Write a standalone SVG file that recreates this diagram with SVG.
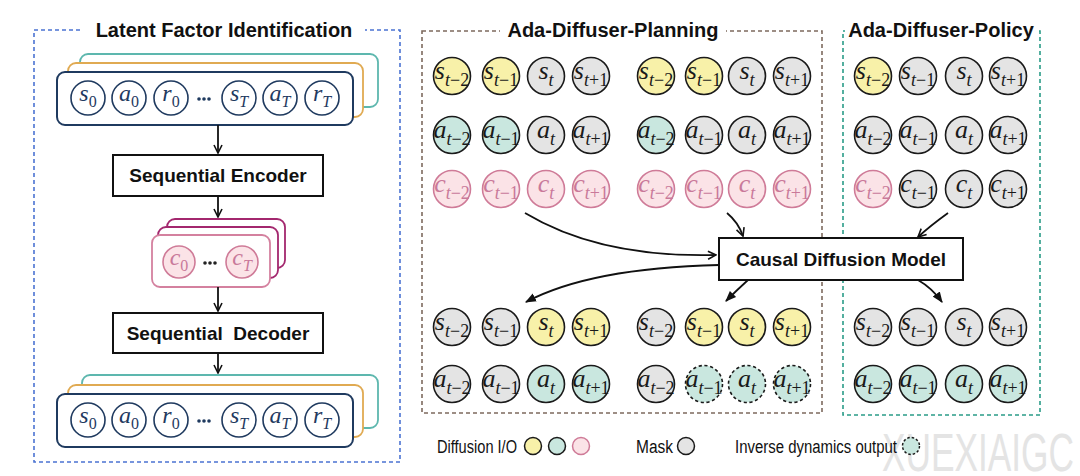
<svg xmlns="http://www.w3.org/2000/svg" xmlns:xlink="http://www.w3.org/1999/xlink" width="1080" height="476" viewBox="0 0 1080 476">
<style>
.title{font-family:"Liberation Sans",Arial,sans-serif;font-weight:bold;font-size:20px;fill:#111;text-anchor:middle}
.btxt{font-family:"Liberation Sans",Arial,sans-serif;font-weight:bold;font-size:19px;fill:#111;text-anchor:middle}
.leg{font-family:"Liberation Sans",Arial,sans-serif;font-size:18px;fill:#111}
.mi{font-family:"Liberation Serif","Times New Roman",serif;font-style:italic;font-size:26px;text-anchor:middle}
.sb{font-size:18px;font-style:italic}
.sn{font-size:18px;font-style:normal}
.mi2{font-family:"Liberation Serif","Times New Roman",serif;font-style:italic;font-size:24px;text-anchor:middle}
.sb2{font-size:16px;font-style:italic}
.sn2{font-size:16px;font-style:normal}
.cy{fill:#f8f1a9;stroke:#1a1a1a;stroke-width:1.6}
.ct{fill:#c9e7df;stroke:#1a1a1a;stroke-width:1.6}
.cg{fill:#e4e4e4;stroke:#1a1a1a;stroke-width:1.6}
.cp{fill:#fbe3e7;stroke:#cf7b98;stroke-width:1.6}
.cd{fill:#c9e7df;stroke:#1a1a1a;stroke-width:1.6;stroke-dasharray:3.2 2.6}
.tk{fill:#1a1a1a}
.tp{fill:#c9799a}
.tn{fill:#1f3a5f}
.cn{fill:#fff;stroke:#1f3a5f;stroke-width:1.6}
.seqF{fill:#fff;stroke:#1f3a5f;stroke-width:2}
.seqO{fill:#fff;stroke:#e0aa52;stroke-width:1.8}
.seqT{fill:#fff;stroke:#5db7ae;stroke-width:1.8}
.box{fill:#fff;stroke:#111;stroke-width:2}
.conn{fill:none;stroke:#111;stroke-width:1.8}
</style>
<defs>
<marker id="open" viewBox="0 0 10 10" refX="9" refY="5" markerWidth="10" markerHeight="10" markerUnits="userSpaceOnUse" orient="auto">
<path d="M1,1 L9,5 L1,9" fill="none" stroke="#111" stroke-width="1.6"/>
</marker>
<marker id="fill" viewBox="0 0 10 10" refX="9" refY="5" markerWidth="11" markerHeight="11" markerUnits="userSpaceOnUse" orient="auto">
<path d="M0,1 L10,5 L0,9 z" fill="#111"/>
</marker>
<text id="s_tm2" class="mi" x="0" y="3">s<tspan class="sb" dy="7">t</tspan><tspan class="sn">−2</tspan></text>
<text id="s_tm1" class="mi" x="0" y="3">s<tspan class="sb" dy="7">t</tspan><tspan class="sn">−1</tspan></text>
<text id="s_t" class="mi" x="0" y="3">s<tspan class="sb" dy="7">t</tspan></text>
<text id="s_tp1" class="mi" x="0" y="3">s<tspan class="sb" dy="7">t</tspan><tspan class="sn">+1</tspan></text>
<text id="a_tm2" class="mi" x="0" y="3">a<tspan class="sb" dy="7">t</tspan><tspan class="sn">−2</tspan></text>
<text id="a_tm1" class="mi" x="0" y="3">a<tspan class="sb" dy="7">t</tspan><tspan class="sn">−1</tspan></text>
<text id="a_t" class="mi" x="0" y="3">a<tspan class="sb" dy="7">t</tspan></text>
<text id="a_tp1" class="mi" x="0" y="3">a<tspan class="sb" dy="7">t</tspan><tspan class="sn">+1</tspan></text>
<text id="c_tm2" class="mi" x="0" y="3">c<tspan class="sb" dy="7">t</tspan><tspan class="sn">−2</tspan></text>
<text id="c_tm1" class="mi" x="0" y="3">c<tspan class="sb" dy="7">t</tspan><tspan class="sn">−1</tspan></text>
<text id="c_t" class="mi" x="0" y="3">c<tspan class="sb" dy="7">t</tspan></text>
<text id="c_tp1" class="mi" x="0" y="3">c<tspan class="sb" dy="7">t</tspan><tspan class="sn">+1</tspan></text>
<text id="s_0" class="mi2" x="0" y="3">s<tspan class="sn2" dy="6">0</tspan></text>
<text id="a_0" class="mi2" x="0" y="3">a<tspan class="sn2" dy="6">0</tspan></text>
<text id="r_0" class="mi2" x="0" y="3">r<tspan class="sn2" dy="6">0</tspan></text>
<text id="s_T" class="mi2" x="0" y="3">s<tspan class="sb2" dy="6">T</tspan></text>
<text id="a_T" class="mi2" x="0" y="3">a<tspan class="sb2" dy="6">T</tspan></text>
<text id="r_T" class="mi2" x="0" y="3">r<tspan class="sb2" dy="6">T</tspan></text>
<text id="c_0" class="mi2" x="0" y="3">c<tspan class="sn2" dy="6">0</tspan></text>
<text id="c_T" class="mi2" x="0" y="3">c<tspan class="sb2" dy="6">T</tspan></text>
<g id="dots"><circle cx="-5" cy="0" r="1.8"/><circle cx="0" cy="0" r="1.8"/><circle cx="5" cy="0" r="1.8"/></g>
</defs>
<rect width="1080" height="476" fill="#fff"/>

<!-- watermark -->
<text x="882" y="471" font-family="Liberation Sans,Arial,sans-serif" font-size="54" fill="#e4e4e4" textLength="192" lengthAdjust="spacingAndGlyphs">XUEXIAIGC</text>

<!-- Panels -->
<g id="panel-latent">
<rect x="34" y="30" width="366" height="432" fill="none" stroke="#4b73d2" stroke-width="1.6" stroke-dasharray="4 3"/>
<rect x="82" y="20" width="283" height="22" fill="#fff"/>
<text class="title" x="224" y="37">Latent Factor Identification</text>
</g>
<g id="panel-planning">
<rect x="422" y="31" width="400" height="382" fill="none" stroke="#7d6a5e" stroke-width="1.6" stroke-dasharray="4 3"/>
<rect x="500" y="20" width="226" height="22" fill="#fff"/>
<text class="title" x="613" y="37">Ada-Diffuser-Planning</text>
</g>
<g id="panel-policy">
<rect x="843" y="31" width="197" height="384" fill="none" stroke="#2a9c88" stroke-width="1.6" stroke-dasharray="4 3"/>
<rect x="845" y="20" width="193" height="22" fill="#fff"/>
<text class="title" x="941" y="37">Ada-Diffuser-Policy</text>
</g>

<!-- Latent: input sequence -->
<g id="seq-in">
<rect class="seqT" x="80" y="54" width="298" height="53" rx="8"/>
<rect class="seqO" x="68" y="63" width="295" height="54" rx="8"/>
<rect class="seqF" x="57" y="72" width="296" height="53" rx="8"/>
<circle class="cn" cx="88" cy="98" r="17"/><use href="#s_0" x="88" y="98" class="tn"/>
<circle class="cn" cx="129" cy="98" r="17"/><use href="#a_0" x="129" y="98" class="tn"/>
<circle class="cn" cx="171" cy="98" r="17"/><use href="#r_0" x="171" y="98" class="tn"/>
<use href="#dots" x="204" y="99" fill="#1f3a5f"/>
<circle class="cn" cx="239" cy="98" r="17"/><use href="#s_T" x="239" y="98" class="tn"/>
<circle class="cn" cx="280" cy="98" r="17"/><use href="#a_T" x="280" y="98" class="tn"/>
<circle class="cn" cx="322" cy="98" r="17"/><use href="#r_T" x="322" y="98" class="tn"/>
</g>
<g id="encoder">
<rect class="box" x="113" y="155" width="210" height="41"/>
<text class="btxt" x="218" y="182">Sequential Encoder</text>
</g>
<g id="latent-c">
<rect x="167" y="219" width="118" height="49" rx="8" fill="#fff" stroke="#a3276e" stroke-width="1.8"/>
<rect x="158" y="227" width="120" height="51" rx="8" fill="#fff" stroke="#a3276e" stroke-width="1.8"/>
<rect x="152" y="235" width="118" height="52" rx="8" fill="#fff" stroke="#d4819f" stroke-width="1.8"/>
<circle class="cp" cx="179" cy="262" r="16"/><use href="#c_0" x="179" y="262" class="tp"/>
<use href="#dots" x="210" y="263" fill="#222"/>
<circle class="cp" cx="242" cy="262" r="16"/><use href="#c_T" x="242" y="262" class="tp"/>
</g>
<g id="decoder">
<rect class="box" x="113" y="313" width="210" height="40"/>
<text class="btxt" x="218" y="340" xml:space="preserve">Sequential  Decoder</text>
</g>
<g id="seq-out">
<rect class="seqT" x="82" y="375" width="296" height="53" rx="8"/>
<rect class="seqO" x="68" y="385" width="295" height="52" rx="8"/>
<rect class="seqF" x="57" y="394" width="296" height="53" rx="8"/>
<circle class="cn" cx="88" cy="420" r="17"/><use href="#s_0" x="88" y="420" class="tn"/>
<circle class="cn" cx="129" cy="420" r="17"/><use href="#a_0" x="129" y="420" class="tn"/>
<circle class="cn" cx="171" cy="420" r="17"/><use href="#r_0" x="171" y="420" class="tn"/>
<use href="#dots" x="204" y="421" fill="#1f3a5f"/>
<circle class="cn" cx="239" cy="420" r="17"/><use href="#s_T" x="239" y="420" class="tn"/>
<circle class="cn" cx="280" cy="420" r="17"/><use href="#a_T" x="280" y="420" class="tn"/>
<circle class="cn" cx="322" cy="420" r="17"/><use href="#r_T" x="322" y="420" class="tn"/>
</g>

<!-- Planning group 1 (inputs) -->
<g id="plan1-in">
<circle class="cy" cx="452" cy="76" r="18.5"/><use href="#s_tm2" x="452" y="76" class="tk"/>
<circle class="cy" cx="501" cy="76" r="18.5"/><use href="#s_tm1" x="501" y="76" class="tk"/>
<circle class="cg" cx="546" cy="76" r="18.5"/><use href="#s_t" x="546" y="76" class="tk"/>
<circle class="cg" cx="591" cy="76" r="18.5"/><use href="#s_tp1" x="591" y="76" class="tk"/>
<circle class="ct" cx="452" cy="135" r="18.5"/><use href="#a_tm2" x="452" y="135" class="tk"/>
<circle class="ct" cx="501" cy="135" r="18.5"/><use href="#a_tm1" x="501" y="135" class="tk"/>
<circle class="cg" cx="546" cy="135" r="18.5"/><use href="#a_t" x="546" y="135" class="tk"/>
<circle class="cg" cx="591" cy="135" r="18.5"/><use href="#a_tp1" x="591" y="135" class="tk"/>
<circle class="cp" cx="452" cy="189" r="18.5"/><use href="#c_tm2" x="452" y="189" class="tp"/>
<circle class="cp" cx="501" cy="189" r="18.5"/><use href="#c_tm1" x="501" y="189" class="tp"/>
<circle class="cp" cx="546" cy="189" r="18.5"/><use href="#c_t" x="546" y="189" class="tp"/>
<circle class="cp" cx="591" cy="189" r="18.5"/><use href="#c_tp1" x="591" y="189" class="tp"/>
</g>
<g id="plan2-in">
<circle class="cy" cx="656" cy="76" r="18.5"/><use href="#s_tm2" x="656" y="76" class="tk"/>
<circle class="cy" cx="704" cy="76" r="18.5"/><use href="#s_tm1" x="704" y="76" class="tk"/>
<circle class="cg" cx="747" cy="76" r="18.5"/><use href="#s_t" x="747" y="76" class="tk"/>
<circle class="cg" cx="792" cy="76" r="18.5"/><use href="#s_tp1" x="792" y="76" class="tk"/>
<circle class="ct" cx="656" cy="135" r="18.5"/><use href="#a_tm2" x="656" y="135" class="tk"/>
<circle class="cg" cx="704" cy="135" r="18.5"/><use href="#a_tm1" x="704" y="135" class="tk"/>
<circle class="cg" cx="747" cy="135" r="18.5"/><use href="#a_t" x="747" y="135" class="tk"/>
<circle class="cg" cx="792" cy="135" r="18.5"/><use href="#a_tp1" x="792" y="135" class="tk"/>
<circle class="cp" cx="656" cy="189" r="18.5"/><use href="#c_tm2" x="656" y="189" class="tp"/>
<circle class="cp" cx="704" cy="189" r="18.5"/><use href="#c_tm1" x="704" y="189" class="tp"/>
<circle class="cp" cx="747" cy="189" r="18.5"/><use href="#c_t" x="747" y="189" class="tp"/>
<circle class="cp" cx="792" cy="189" r="18.5"/><use href="#c_tp1" x="792" y="189" class="tp"/>
</g>
<g id="policy-in">
<circle class="cy" cx="873" cy="76" r="18.5"/><use href="#s_tm2" x="873" y="76" class="tk"/>
<circle class="cg" cx="918" cy="76" r="18.5"/><use href="#s_tm1" x="918" y="76" class="tk"/>
<circle class="cg" cx="964" cy="76" r="18.5"/><use href="#s_t" x="964" y="76" class="tk"/>
<circle class="cg" cx="1008" cy="76" r="18.5"/><use href="#s_tp1" x="1008" y="76" class="tk"/>
<circle class="cg" cx="873" cy="135" r="18.5"/><use href="#a_tm2" x="873" y="135" class="tk"/>
<circle class="cg" cx="918" cy="135" r="18.5"/><use href="#a_tm1" x="918" y="135" class="tk"/>
<circle class="cg" cx="964" cy="135" r="18.5"/><use href="#a_t" x="964" y="135" class="tk"/>
<circle class="cg" cx="1008" cy="135" r="18.5"/><use href="#a_tp1" x="1008" y="135" class="tk"/>
<circle class="cp" cx="873" cy="189" r="18.5"/><use href="#c_tm2" x="873" y="189" class="tp"/>
<circle class="cg" cx="918" cy="189" r="18.5"/><use href="#c_tm1" x="918" y="189" class="tk"/>
<circle class="cg" cx="964" cy="189" r="18.5"/><use href="#c_t" x="964" y="189" class="tk"/>
<circle class="cg" cx="1008" cy="189" r="18.5"/><use href="#c_tp1" x="1008" y="189" class="tk"/>
</g>

<g id="causal-model">
<rect class="box" x="719" y="238" width="244" height="42"/>
<text class="btxt" x="841" y="266">Causal Diffusion Model</text>
</g>

<!-- outputs -->
<g id="plan1-out">
<circle class="cg" cx="452" cy="327" r="18.5"/><use href="#s_tm2" x="452" y="327" class="tk"/>
<circle class="cg" cx="501" cy="327" r="18.5"/><use href="#s_tm1" x="501" y="327" class="tk"/>
<circle class="cy" cx="546" cy="327" r="18.5"/><use href="#s_t" x="546" y="327" class="tk"/>
<circle class="cy" cx="591" cy="327" r="18.5"/><use href="#s_tp1" x="591" y="327" class="tk"/>
<circle class="cg" cx="452" cy="384" r="18.5"/><use href="#a_tm2" x="452" y="384" class="tk"/>
<circle class="cg" cx="501" cy="384" r="18.5"/><use href="#a_tm1" x="501" y="384" class="tk"/>
<circle class="ct" cx="546" cy="384" r="18.5"/><use href="#a_t" x="546" y="384" class="tk"/>
<circle class="ct" cx="591" cy="384" r="18.5"/><use href="#a_tp1" x="591" y="384" class="tk"/>
</g>
<g id="plan2-out">
<circle class="cg" cx="656" cy="327" r="18.5"/><use href="#s_tm2" x="656" y="327" class="tk"/>
<circle class="cy" cx="704" cy="327" r="18.5"/><use href="#s_tm1" x="704" y="327" class="tk"/>
<circle class="cy" cx="747" cy="327" r="18.5"/><use href="#s_t" x="747" y="327" class="tk"/>
<circle class="cy" cx="792" cy="327" r="18.5"/><use href="#s_tp1" x="792" y="327" class="tk"/>
<circle class="cg" cx="656" cy="384" r="18.5"/><use href="#a_tm2" x="656" y="384" class="tk"/>
<circle class="cd" cx="704" cy="384" r="18.5"/><use href="#a_tm1" x="704" y="384" class="tk"/>
<circle class="cd" cx="747" cy="384" r="18.5"/><use href="#a_t" x="747" y="384" class="tk"/>
<circle class="cd" cx="792" cy="384" r="18.5"/><use href="#a_tp1" x="792" y="384" class="tk"/>
</g>
<g id="policy-out">
<circle class="cg" cx="873" cy="327" r="18.5"/><use href="#s_tm2" x="873" y="327" class="tk"/>
<circle class="cg" cx="918" cy="327" r="18.5"/><use href="#s_tm1" x="918" y="327" class="tk"/>
<circle class="cg" cx="964" cy="327" r="18.5"/><use href="#s_t" x="964" y="327" class="tk"/>
<circle class="cg" cx="1008" cy="327" r="18.5"/><use href="#s_tp1" x="1008" y="327" class="tk"/>
<circle class="ct" cx="873" cy="384" r="18.5"/><use href="#a_tm2" x="873" y="384" class="tk"/>
<circle class="ct" cx="918" cy="384" r="18.5"/><use href="#a_tm1" x="918" y="384" class="tk"/>
<circle class="ct" cx="964" cy="384" r="18.5"/><use href="#a_t" x="964" y="384" class="tk"/>
<circle class="ct" cx="1008" cy="384" r="18.5"/><use href="#a_tp1" x="1008" y="384" class="tk"/>
</g>

<!-- connectors -->
<g id="connectors">
<path class="conn" d="M218,125 L218,153" marker-end="url(#open)"/>
<path class="conn" d="M218,196 L218,217" marker-end="url(#open)"/>
<path class="conn" d="M218,287 L218,311" marker-end="url(#open)"/>
<path class="conn" d="M218,353 L218,373" marker-end="url(#open)"/>
<path class="conn" d="M525,213 Q600,258 716,255" marker-end="url(#open)"/>
<path class="conn" d="M727,213 Q738,222 743,236" marker-end="url(#open)"/>
<path class="conn" d="M948,213 Q930,226 918,237" marker-end="url(#open)"/>
<path class="conn" d="M719,265 Q590,268 526,302" marker-end="url(#fill)"/>
<path class="conn" d="M748,280 Q737,290 726,301" marker-end="url(#fill)"/>
<path class="conn" d="M918,280 Q932,288 942,302" marker-end="url(#fill)"/>
</g>

<!-- legend -->
<g id="legend">
<text class="leg" x="437" y="453" textLength="80" lengthAdjust="spacingAndGlyphs">Diffusion I/O</text>
<circle cx="533" cy="446" r="8.5" fill="#f8f1a9" stroke="#1a1a1a" stroke-width="1.5"/>
<circle cx="557" cy="446" r="8.5" fill="#c9e7df" stroke="#1a1a1a" stroke-width="1.5"/>
<circle cx="581" cy="446" r="8.5" fill="#fbe3e7" stroke="#cf7b98" stroke-width="1.5"/>
<text class="leg" x="636" y="453" textLength="37" lengthAdjust="spacingAndGlyphs">Mask</text>
<circle cx="686" cy="446" r="8.5" fill="#e4e4e4" stroke="#1a1a1a" stroke-width="1.5"/>
<text class="leg" x="735" y="453" textLength="162" lengthAdjust="spacingAndGlyphs">Inverse dynamics output</text>
<circle cx="911" cy="446" r="8.5" fill="#c9e7df" stroke="#1a1a1a" stroke-width="1.5" stroke-dasharray="2.5 2"/>
</g>
</svg>
